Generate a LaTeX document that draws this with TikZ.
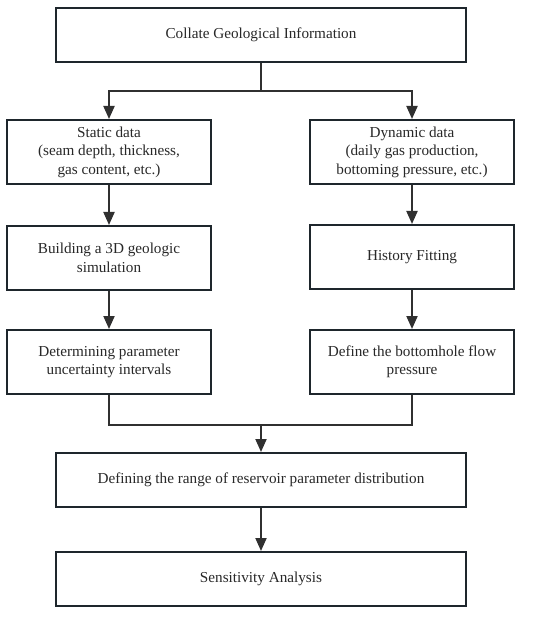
\documentclass[tikz,border=0pt]{standalone}
\usepackage{fontspec}
\setmainfont{Liberation Serif}
\usetikzlibrary{arrows.meta,calc}
\definecolor{boxline}{RGB}{30,38,44}
\definecolor{arrline}{RGB}{48,48,48}
\definecolor{txt}{RGB}{40,40,40}
\begin{document}
\begin{tikzpicture}[x=1pt,y=-1pt,
  box/.style={draw=boxline,line width=2pt,fill=white,align=center,inner sep=2pt,
    font=\fontsize{15.2}{18.5}\selectfont,text=txt},
  wide/.style={box,minimum width=410pt,minimum height=54pt},
  narrow/.style={box,minimum width=204pt,minimum height=64pt},
  arr/.style={draw=arrline,line width=2pt,-{Triangle[length=13pt,width=11pt]}},
  ln/.style={draw=arrline,line width=2pt}]
\useasboundingbox (0,0) rectangle (550,617);
\node[wide] (top) at (261,35) {Collate Geological Information};
\node[narrow] (static) at (109,152) {Static data\\(seam depth, thickness,\\gas content, etc.)};
\node[narrow] (dyn) at (412,152) {Dynamic data\\(daily gas production,\\bottoming pressure, etc.)};
\node[narrow] (build) at (109,258) {Building a 3D geologic\\simulation};
\node[narrow] (hist) at (412,257) {History Fitting};
\node[narrow] (det) at (109,362) {Determining parameter\\uncertainty intervals};
\node[narrow] (def) at (412,362) {Define the bottomhole flow\\pressure};
\node[wide] (range) at (261,480) {Defining the range of reservoir parameter distribution};
\node[wide] (sens) at (261,579) {Sensitivity Analysis};
\coordinate (jt) at ($(top.south)+(0,28)$);
\draw[arr] (top.south) -- (jt) -| (static.north);
\draw[arr] (jt) -| (dyn.north);
\draw[arr] (static) -- (build);
\draw[arr] (build) -- (det);
\draw[arr] (dyn) -- (hist);
\draw[arr] (hist) -- (def);
\coordinate (jb) at ($(det.south)+(0,30)$);
\draw[ln] (det.south) -- (jb) -- (jb -| def.south) -- (def.south);
\draw[arr] (jb -| range.north) -- (range.north);
\draw[arr] (range) -- (sens);
\end{tikzpicture}
\end{document}
